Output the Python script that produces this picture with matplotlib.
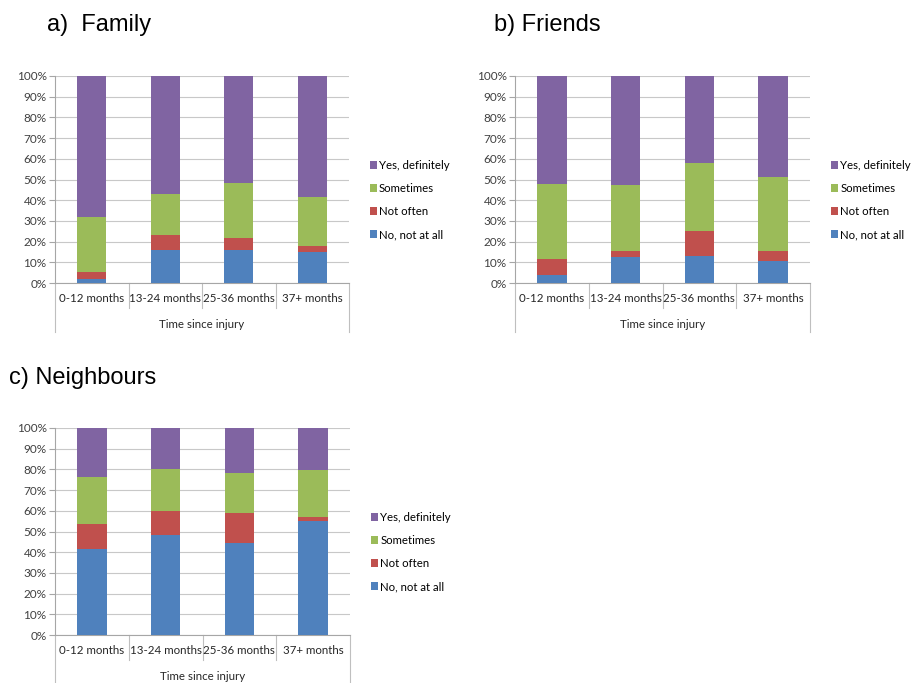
import matplotlib.pyplot as plt
import numpy as np
from matplotlib.ticker import PercentFormatter

categories = ['0-12 months', '13-24 months', '25-36 months', '37+ months']
series_names = ['No, not at all', 'Not often', 'Sometimes', 'Yes, definitely']
colors = ['#4F81BD', '#C0504D', '#9BBB59', '#8064A2']

# cumulative tops (No, Not often, Sometimes); Yes fills to 100
family_tops = [[2, 16, 16, 15],
               [5.5, 23, 21.5, 18],
               [32, 43, 48.5, 41.5]]
friends_tops = [[4, 12.5, 13, 10.5],
                [11.5, 15.5, 25, 15.5],
                [48, 47.5, 58, 51]]
neighbours_tops = [[41.5, 48.5, 44.5, 55],
                   [53.5, 60, 59, 57],
                   [76.5, 80, 78.5, 79.5]]

W, H = 915, 683
small = 'Lato'


def to_shares(tops):
    t = np.array(tops + [[100] * 4], dtype=float)
    return np.diff(np.vstack([np.zeros(4), t]), axis=0)


def panel(fig, left, right, top, bottom, tops, title, title_xy, lab_off, grp_off, out_len):
    ax = fig.add_axes([left / W, 1 - bottom / H, (right - left) / W, (bottom - top) / H])
    shares = to_shares(tops)
    x = np.arange(len(categories))
    base = np.zeros(len(categories))
    bars = []
    for name, col, vals in zip(series_names, colors, shares):
        b = ax.bar(x, vals, 0.4, bottom=base, color=col, label=name, zorder=3)
        bars.append(b)
        base += vals
    ax.set_xlim(-0.5, 3.5)
    ax.set_ylim(0, 100)
    ax.set_yticks(np.arange(0, 101, 10))
    ax.yaxis.set_major_formatter(PercentFormatter(decimals=0))
    ax.tick_params(axis='y', labelsize=8.5, length=4, color='#A6A6A6', pad=2,
                   labelcolor='#404040')
    for lbl in ax.get_yticklabels():
        lbl.set_family(small)
    ax.set_xticks([])
    ax.grid(axis='y', color='#C8C8C8', lw=0.8, zorder=0)
    for s in ['top', 'right']:
        ax.spines[s].set_visible(False)
    for s in ['left', 'bottom']:
        ax.spines[s].set_color('#A6A6A6')
    h = bottom - top
    # multi-level category axis
    for f in [0.25, 0.5, 0.75]:
        ax.plot([f, f], [0, -25 / h], transform=ax.transAxes, color='#BFBFBF', lw=0.8, clip_on=False)
    for f in [0, 1]:
        ax.plot([f, f], [0, -out_len / h], transform=ax.transAxes, color='#BFBFBF', lw=0.8, clip_on=False)
    for i, c in enumerate(categories):
        ax.text((i + 0.5) / 4, -lab_off / h, c, transform=ax.transAxes, ha='center', va='center',
                fontsize=8.3, family=small, color='#262626')
    ax.text(0.5, -grp_off / h, 'Time since injury', transform=ax.transAxes, ha='center', va='center',
            fontsize=8.3, family=small, color='#262626')
    handles = bars[::-1]
    ax.legend(handles, series_names[::-1], loc='center left',
              bbox_to_anchor=(1.052, (bottom - 200 - (top - 76)) / h), frameon=False,
              handlelength=0.6, handleheight=0.6, handletextpad=0.2, labelspacing=1.05,
              borderpad=0, prop={'family': small, 'size': 8.2})
    fig.text(title_xy[0] / W, 1 - title_xy[1] / H, title, fontsize=17,
             family='Liberation Sans', va='center', ha='left')
    return ax


fig = plt.figure(figsize=(W / 100, H / 100), dpi=100)
panel(fig, 55, 349, 76, 283, family_tops, 'a)  Family', (47, 25), 16, 41, 49)
panel(fig, 515, 810, 76, 283, friends_tops, 'b) Friends', (494, 25), 16, 41, 49)
panel(fig, 55, 350, 428, 635, neighbours_tops, 'c) Neighbours', (9, 378), 15, 42, 50)

fig.savefig('out.png', dpi=100)
